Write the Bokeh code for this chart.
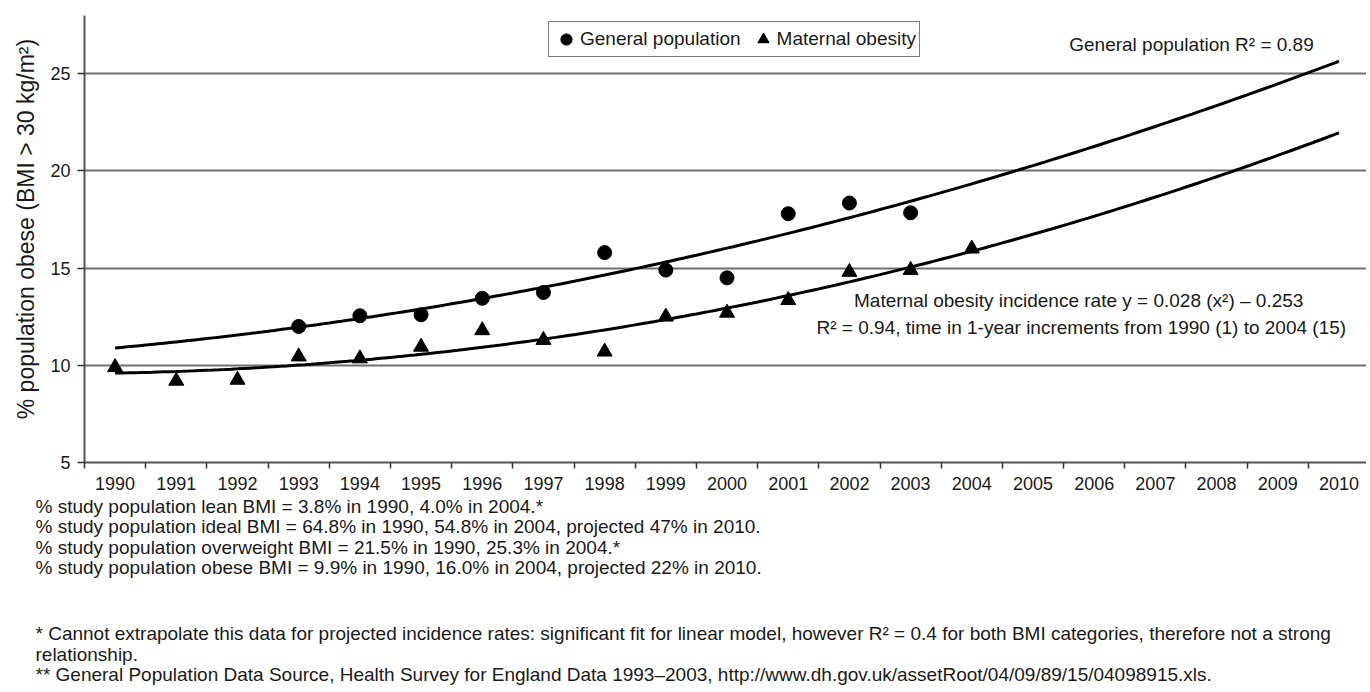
import numpy as np
from bokeh.plotting import figure
from bokeh.models import Range1d, FixedTicker, Label, Legend, LegendItem, Title
from bokeh.embed import file_html
from bokeh.resources import INLINE

# ---------------- data ----------------
years = list(range(1990, 2011))
year_labels = [str(y) for y in years]

gen_years = [1993, 1994, 1995, 1996, 1997, 1998, 1999, 2000, 2001, 2002, 2003]
gen_values = [12.0, 12.55, 12.6, 13.45, 13.75, 15.8, 14.9, 14.5, 17.8, 18.35, 17.85]

mat_years = list(range(1990, 2005))
mat_values = [9.9, 9.2, 9.25, 10.45, 10.35, 10.95, 11.8, 11.3, 10.7, 12.5, 12.7, 13.35, 14.8, 14.9, 16.0]

y_ticks = [5, 10, 15, 20, 25]
grid_ticks = [10, 15, 20, 25]

footnotes_bmi = [
    "% study population lean BMI = 3.8% in 1990, 4.0% in 2004.*",
    "% study population ideal BMI = 64.8% in 1990, 54.8% in 2004, projected 47% in 2010.",
    "% study population overweight BMI = 21.5% in 1990, 25.3% in 2004.*",
    "% study population obese BMI = 9.9% in 1990, 16.0% in 2004, projected 22% in 2010.",
]
footnotes_notes = [
    "* Cannot extrapolate this data for projected incidence rates: significant fit for linear model, however R\u00b2 = 0.4 for both BMI categories, therefore not a strong",
    "relationship.",
    "** General Population Data Source, Health Survey for England Data 1993\u20132003, http://www.dh.gov.uk/assetRoot/04/09/89/15/04098915.xls.",
]

FONT = "Liberation Sans"
TXT = "#1a1a1a"

# quadratic trend lines (Excel-style fit on time index 1..n from 1990)
t_gen = np.array(gen_years) - 1989
t_mat = np.array(mat_years) - 1989
c_gen = np.polyfit(t_gen, gen_values, 2)
c_mat = np.polyfit(t_mat, mat_values, 2)
x_fit = np.linspace(years[0], years[-1], 201)
gen_fit = np.polyval(c_gen, x_fit - 1989)
mat_fit = np.polyval(c_mat, x_fit - 1989)

# ---------------- main plot ----------------
p = figure(width=1366, height=692, x_range=Range1d(1989.5, 2010.45), y_range=Range1d(5, 28),
           output_backend="svg", toolbar_location=None,
           min_border_left=84, min_border_right=0, min_border_top=15, min_border_bottom=230)
p.outline_line_color = None
p.background_fill_color = "white"

p.xaxis.ticker = FixedTicker(ticks=years, minor_ticks=[y - 0.5 for y in years])
p.xaxis.major_label_overrides = {y: s for y, s in zip(years, year_labels)}
p.xaxis.major_tick_line_color = None
p.xaxis.major_tick_out = 4
p.xaxis.major_tick_in = 0
p.xaxis.minor_tick_out = 6
p.xaxis.minor_tick_in = 0
p.xaxis.minor_tick_line_color = "#333333"
p.xaxis.minor_tick_line_width = 1.5
p.xaxis.major_label_standoff = 8

p.yaxis.ticker = FixedTicker(ticks=y_ticks)
p.yaxis.major_tick_out = 7
p.yaxis.major_tick_in = 0
p.yaxis.major_tick_line_color = "#333333"
p.yaxis.major_tick_line_width = 1.5
p.yaxis.minor_tick_line_color = None
p.yaxis.major_label_standoff = 7

for ax in (p.xaxis, p.yaxis):
    ax.axis_line_color = "#555555"
    ax.axis_line_width = 2
    ax.major_label_text_font = FONT
    ax.major_label_text_font_size = "18px"
    ax.major_label_text_color = TXT

p.xgrid.visible = False
p.ygrid.ticker = FixedTicker(ticks=grid_ticks)
p.ygrid.grid_line_color = "#707070"
p.ygrid.grid_line_width = 2

p.line(x_fit, gen_fit, line_color="black", line_width=3)
p.line(x_fit, mat_fit, line_color="black", line_width=3)
r_gen = p.scatter(gen_years, gen_values, marker="circle", size=14, color="black")
r_mat = p.scatter(mat_years, mat_values, marker="triangle", size=15, color="black")

legend = Legend(items=[LegendItem(label="General population", renderers=[r_gen]),
                       LegendItem(label="Maternal obesity", renderers=[r_mat])],
                orientation="horizontal", location=(464, 405),
                border_line_color="black", border_line_width=1.5,
                padding=3, spacing=8, margin=0, glyph_width=28, glyph_height=28,
                label_standoff=-8, label_text_font=FONT, label_text_font_size="19px",
                label_text_color=TXT, background_fill_alpha=1.0)
p.add_layout(legend)

p.add_layout(Label(x=2007.59, y=26.5, text="General population R\u00b2 = 0.89",
                   text_align="center", text_baseline="middle", text_font=FONT,
                   text_font_size="19px", text_color=TXT))
p.add_layout(Label(x=2005.79, y=13.34, text="Maternal  obesity incidence rate y = 0.028 (x\u00b2) \u2013 0.253",
                   text_align="center", text_baseline="middle", text_font=FONT,
                   text_font_size="19px", text_color=TXT))
p.add_layout(Label(x=2005.79, y=11.95, text="R\u00b2 = 0.94, time in 1-year increments from 1990 (1) to 2004 (15)",
                   text_align="center", text_baseline="middle", text_font=FONT,
                   text_font_size="19px", text_color=TXT))

# y axis title (rotated, on the left), ending near the top of the axis
p.add_layout(Title(text="% population  obese (BMI > 30 kg/m\u00b2)", align="right", offset=17,
                   standoff=17, text_font=FONT, text_font_size="23px", text_color=TXT,
                   text_font_style="normal"), "left")

# footnotes below the axis (two multi-line blocks, second one after a blank gap)
p.add_layout(Title(text="\n".join(footnotes_bmi), align="left", offset=-49, standoff=3,
                   text_line_height=0.97, text_font=FONT, text_font_size="19px",
                   text_color=TXT, text_font_style="normal"), "below")
p.add_layout(Title(text="\n".join([" ", " "] + footnotes_notes), align="left", offset=-49, standoff=3,
                   text_line_height=0.97, text_font=FONT, text_font_size="19px",
                   text_color=TXT, text_font_style="normal"), "below")

open("out.html", "w").write(file_html(p, INLINE))
